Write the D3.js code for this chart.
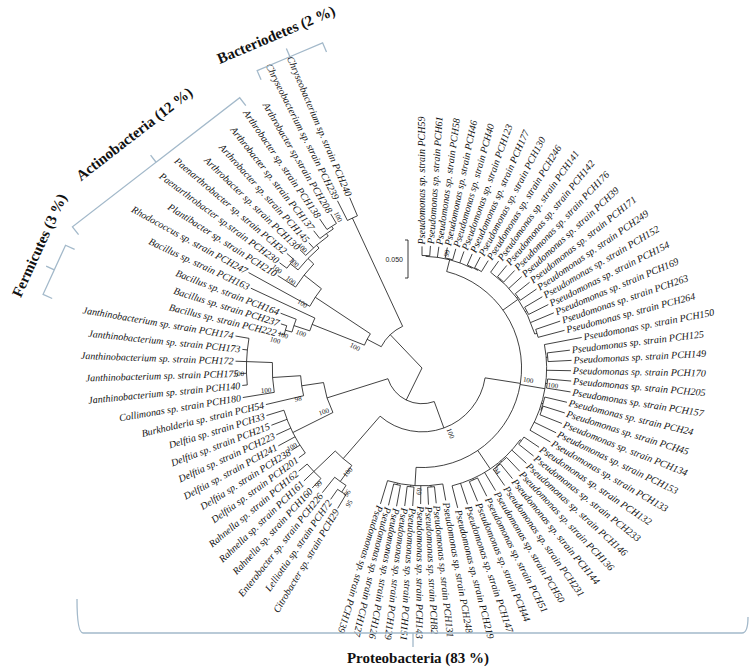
<!DOCTYPE html>
<html>
<head>
<meta charset="utf-8">
<script src="https://cdn.jsdelivr.net/npm/d3@7"></script>
<style>
  body { margin: 0; background: #fff; }
  svg { display: block; }
  .leaf { font-family: "Liberation Serif", "Times New Roman", serif; font-style: italic; font-size: 10px; fill: #111; }
  .boot { font-family: "Liberation Serif", "Times New Roman", serif; font-size: 7px; fill: #111; }
  .phylum { font-family: "Liberation Serif", "Times New Roman", serif; font-weight: bold; font-size: 15px; fill: #111; }
  .scale { font-family: "Liberation Sans", Arial, sans-serif; font-size: 7px; fill: #222; }
</style>
</head>
<body>
<div id="chart"></div>
<script>
// size + centre of the circular tree
var width = 750, height = 668;
var cx = 422, cy = 368;

// strains, clockwise from 12 o'clock
var pseudomonasStrains = ["PCH59","PCH61","PCH58","PCH46","PCH40","PCH123","PCH177","PCH130","PCH246",
  "PCH141","PCH142","PCH176","PCH39","PCH171","PCH249","PCH152","PCH154","PCH169","PCH263","PCH264",
  "PCH150","PCH125","PCH149","PCH170","PCH205","PCH157","PCH24","PCH45","PCH134","PCH153","PCH133",
  "PCH132","PCH233","PCH146","PCH136","PCH144","PCH231","PCH50","PCH51","PCH44","PCH147","PCH219",
  "PCH248","PCH131","PCH82","PCH143","PCH151","PCH129","PCH126","PCH127","PCH139"];

var otherStrains = [
  "Citrobacter sp. strain PCH29", "Lelliottia sp. strain PCH72", "Enterobacter sp. strain PCH226",
  "Rahnella sp. strain PCH160", "Rahnella sp. strain PCH161", "Rahnella sp. strain PCH162",
  "Delftia sp. strain PCH201", "Delftia sp. strain PCH238", "Delftia sp. strain PCH241",
  "Delftia sp. strain PCH223", "Delftia sp. strain PCH215", "Delftia sp. strain PCH33",
  "Burkholderia sp. strain PCH54", "Collimonas sp. strain PCH180",
  "Janthinobacterium sp. strain PCH140", "Janthinobacterium sp. strain PCH175",
  "Janthinobacterium sp. strain PCH172", "Janthinobacterium sp. strain PCH173",
  "Janthinobacterium sp. strain PCH174",
  "Bacillus sp. strain PCH222", "Bacillus sp. strain PCH237", "Bacillus sp. strain PCH164",
  "Bacillus sp. strain PCH163", "Rhodococcus sp. strain PCH247", "Plantibacter sp. strain PCH210",
  "Paenarthrobacter sp.strain PCH230", "Paenarthrobacter sp. strain PCH32",
  "Arthrobacter sp. strain PCH130", "Arthrobacter sp. strain PCH145", "Arthrobacter sp. strain PCH137",
  "Arthrobacter sp. strain PCH138", "Arthrobacter sp.strain PCH208",
  "Chryseobacterium sp. strain PCH239", "Chryseobacterium sp. strain PCH240"];

// topology (newick), Pn = pseudomonasStrains[n], On = otherStrains[n]
// branch lengths in substitutions/site, internal labels = bootstrap
var treeNewick =
  "(((" +
  "(((P0:0.012,P1:0.013):0.001,P2:0.014,(P3:0.014,P4:0.015):0.001,P5:0.016,(P6:0.016,(P7:0.016,P8:0.017):0.001):0.001)99:0.016," +
  "(P9:0.018,(P10:0.019,P11:0.021):0.001,P12:0.023,(P13:0.024,P14:0.026):0.002,(P15:0.027,P16:0.029):0.002,P17:0.033,(P18:0.034,P19:0.036):0.003):0.024," +
  "(P20:0.050,(P21:0.030,P22:0.031):0.002,P23:0.032,(P24:0.031,P25:0.032):0.002,(P26:0.030,(P27:0.030,P28:0.031):0.001):0.002,P29:0.032,P30:0.031)100:0.033," +
  "((P31:0.024,P32:0.025):0.002,P33:0.026,(P34:0.025,(P35:0.025,P36:0.026):0.001):0.002,P37:0.028,(P38:0.027,P39:0.028):0.002,P40:0.029,P41:0.030)94:0.029," +
  "(P42:0.022,(P43:0.022,P44:0.023):0.002,P45:0.024,(P46:0.025,P47:0.026):0.002,(P48:0.028,P49:0.029):0.002,P50:0.032)69:0.024)100:0.047," +
  "(((O0:0.021,O1:0.016)95:0.0105,O2:0.026)96:0.026,(O3:0.017,O4:0.018,O5:0.0145)99:0.039)100:0.074)100:0.037," +
  "((O6:0.0105,O7:0.013,O8:0.025,O9:0.021,O10:0.022,O11:0.024)100:0.059,(O12:0.051,(O13:0.042,(O14:0.0066,O15:0.008,O16:0.0145,O17:0.0066,O18:0.018)100:0.034)100:0.037)98:0.029)100:0.084):0.047," +
  "(((((O19:0.008,O20:0.008)100:0.009,O21:0.022)100:0.022,O22:0.093)100:0.074," +
  "(O23:0.092,(O24:0.028,((O25:0.012,O26:0.012)100:0.013,(O27:0.0105,O28:0.009,(O29:0.013,(O30:0.017,O31:0.0145):0.004):0.004)100:0.005)100:0.0105)100:0.029)100:0.087)100:0.021," +
  "(O32:0.029,O33:0.026)100:0.157):0.0605);";

// leaf angle (deg, clockwise from 3 o'clock) by leaf number
var leafIndexBreaks = [0, 24, 43, 50, 51, 84];
var leafAngleBreaks = [-90, 5, 84, 107, 121, 247];

var phylumBrackets = [
  {name: "Bacteriodetes (2 %)",   a0: 241, a1: 253, r0: 340, r1: 340, off: 26, shift: -4},
  {name: "Actinobacteria (12 %)", a0: 202, a1: 236, r0: 377, r1: 326, off: 36, shift: 0},
  {name: "Fermicutes (3 %)",      a0: 191, a1: 199, r0: 386, r1: 377, off: 24, shift: 16}
];

function parseNewick(s) {
  var i = 0;
  function node() {
    var n = {};
    if (s[i] === '(') {
      i++;
      n.children = [node()];
      while (s[i] === ',') { i++; n.children.push(node()); }
      i++;
    }
    var tok = '';
    while (i < s.length && '(),:;'.indexOf(s[i]) < 0) tok += s[i++];
    n.name = tok;
    if (s[i] === ':') {
      i++;
      var l = '';
      while (i < s.length && '(),;'.indexOf(s[i]) < 0) l += s[i++];
      n.length = +l;
    }
    return n;
  }
  return node();
}

var rScale = d3.scaleLinear().domain([0, 0.05]).range([0, 38]);
var angle = d3.scaleLinear().domain(leafIndexBreaks).range(leafAngleBreaks);

var root = d3.hierarchy(parseNewick(treeNewick), function(d) { return d.children; });

root.eachBefore(function(d) {
  d.len = d.parent ? d.parent.len + (d.data.length || 0) : 0;
  d.radius = rScale(d.len);
});
root.eachAfter(function(d) {
  if (!d.children) {
    var k = +d.data.name.slice(1);
    if (d.data.name[0] === 'P') {
      d.angle = angle(k);
      d.label = 'Pseudomonas sp. strain ' + pseudomonasStrains[k];
      d.flip = false;
    } else {
      d.angle = angle(pseudomonasStrains.length + k);
      d.label = otherStrains[k];
      d.flip = true;
    }
  } else {
    var as = d.children.map(function(c) { return c.angle; });
    d.a0 = d3.min(as); d.a1 = d3.max(as);
    d.angle = (d.a0 + d.a1) / 2;
  }
});

function pt(rad, deg) {
  var t = deg * Math.PI / 180;
  return [cx + rad * Math.cos(t), cy + rad * Math.sin(t)];
}

var svg = d3.select('#chart').append('svg')
  .attr('width', width).attr('height', height);

var g = svg.append('g');

// radial branches
g.selectAll('.branch')
  .data(root.descendants().filter(function(d) { return d.parent; }))
  .enter().append('path')
  .attr('class', 'branch')
  .attr('fill', 'none').attr('stroke', '#111').attr('stroke-width', 0.8)
  .attr('d', function(d) {
    var p0 = pt(d.parent.radius, d.angle), p1 = pt(d.radius, d.angle);
    return 'M' + p0 + 'L' + p1;
  });

// connecting arcs
g.selectAll('.arc')
  .data(root.descendants().filter(function(d) { return d.children && d.radius > 1; }))
  .enter().append('path')
  .attr('class', 'arc')
  .attr('fill', 'none').attr('stroke', '#111').attr('stroke-width', 0.8)
  .attr('d', function(d) {
    var p0 = pt(d.radius, d.a0), p1 = pt(d.radius, d.a1);
    var large = (d.a1 - d.a0) > 180 ? 1 : 0;
    return 'M' + p0 + 'A' + d.radius + ',' + d.radius + ' 0 ' + large + ' 1 ' + p1;
  });

// leaf labels
g.selectAll('.leaf')
  .data(root.leaves())
  .enter().append('text')
  .attr('class', 'leaf')
  .attr('dy', '0.33em')
  .attr('text-anchor', function(d) { return d.flip ? 'end' : 'start'; })
  .attr('transform', function(d) {
    return 'translate(' + cx + ',' + cy + ') rotate(' + d.angle + ') translate(' + (d.radius + 2) + ',0)' +
      (d.flip ? ' rotate(180)' : '');
  })
  .text(function(d) { return d.label; });

// bootstrap values
g.selectAll('.boot')
  .data(root.descendants().filter(function(d) { return d.children && d.data.name !== ''; }))
  .enter().append('text')
  .attr('class', 'boot')
  .attr('text-anchor', function(d) { return (d.angle > 100 && d.angle < 260) ? 'end' : 'start'; })
  .attr('dy', function(d) { return (d.angle > 100 && d.angle < 260) ? '2.1em' : '-0.3em'; })
  .attr('transform', function(d) {
    var f = d.angle > 100 && d.angle < 260;
    return 'translate(' + cx + ',' + cy + ') rotate(' + d.angle + ') translate(' + (d.radius + 2) + ',0)' +
      (f ? ' rotate(180)' : '');
  })
  .text(function(d) { return d.data.name; });

// scale bar
var sbX = 408, sbY = 240, sbLen = rScale(0.05);
svg.append('path')
  .attr('fill', 'none').attr('stroke', '#222').attr('stroke-width', 0.9)
  .attr('d', 'M' + (sbX - 3) + ',' + sbY + 'H' + sbX + 'V' + (sbY + sbLen) + 'H' + (sbX - 3));
svg.append('text').attr('class', 'scale')
  .attr('x', sbX - 5).attr('y', sbY + sbLen / 2 + 3)
  .attr('text-anchor', 'end')
  .text('0.050');

// phylum brackets
var bracketColor = '#a3b9ca';
phylumBrackets.forEach(function(b) {
  var p1 = pt(b.r0, b.a0), p2 = pt(b.r1, b.a1);
  var mid = [(p1[0] + p2[0]) / 2, (p1[1] + p2[1]) / 2];
  var dx = p2[0] - p1[0], dy = p2[1] - p1[1], L = Math.hypot(dx, dy);
  var u = [dx / L, dy / L];
  var n = [-u[1], u[0]];
  // n must point toward the tree centre
  if ((cx - mid[0]) * n[0] + (cy - mid[1]) * n[1] < 0) n = [-n[0], -n[1]];
  var h = 10, k = 9;
  var path = 'M' + [p1[0] + n[0] * h, p1[1] + n[1] * h] + 'L' + p1 + 'L' + mid +
    'L' + [mid[0] - n[0] * k, mid[1] - n[1] * k] + 'M' + mid + 'L' + p2 +
    'L' + [p2[0] + n[0] * h, p2[1] + n[1] * h];
  svg.append('path').attr('d', path)
    .attr('fill', 'none').attr('stroke', bracketColor).attr('stroke-width', 1.3);
  var tp = [mid[0] - n[0] * b.off + u[0] * b.shift, mid[1] - n[1] * b.off + u[1] * b.shift];
  var rot = Math.atan2(u[1], u[0]) * 180 / Math.PI;
  svg.append('text').attr('class', 'phylum')
    .attr('text-anchor', 'middle').attr('dy', '0.35em')
    .attr('transform', 'translate(' + tp + ') rotate(' + rot + ')')
    .text(b.name);
});

// Proteobacteria bracket along the bottom
var pbX0 = 77, pbX1 = 748, pbY = 633, pbMid = 413;
svg.append('path')
  .attr('fill', 'none').attr('stroke', bracketColor).attr('stroke-width', 1.3)
  .attr('d', 'M' + pbX0 + ',' + (pbY - 34) + 'Q' + pbX0 + ',' + pbY + ' ' + (pbX0 + 6) + ',' + pbY +
    'H' + pbMid + 'v14M' + pbMid + ',' + pbY + 'H' + (pbX1 - 6) +
    'Q' + pbX1 + ',' + pbY + ' ' + pbX1 + ',' + (pbY - 16));
svg.append('text').attr('class', 'phylum')
  .attr('x', 418).attr('y', 663).attr('text-anchor', 'middle')
  .text('Proteobacteria (83 %)');
</script>
</body>
</html>
